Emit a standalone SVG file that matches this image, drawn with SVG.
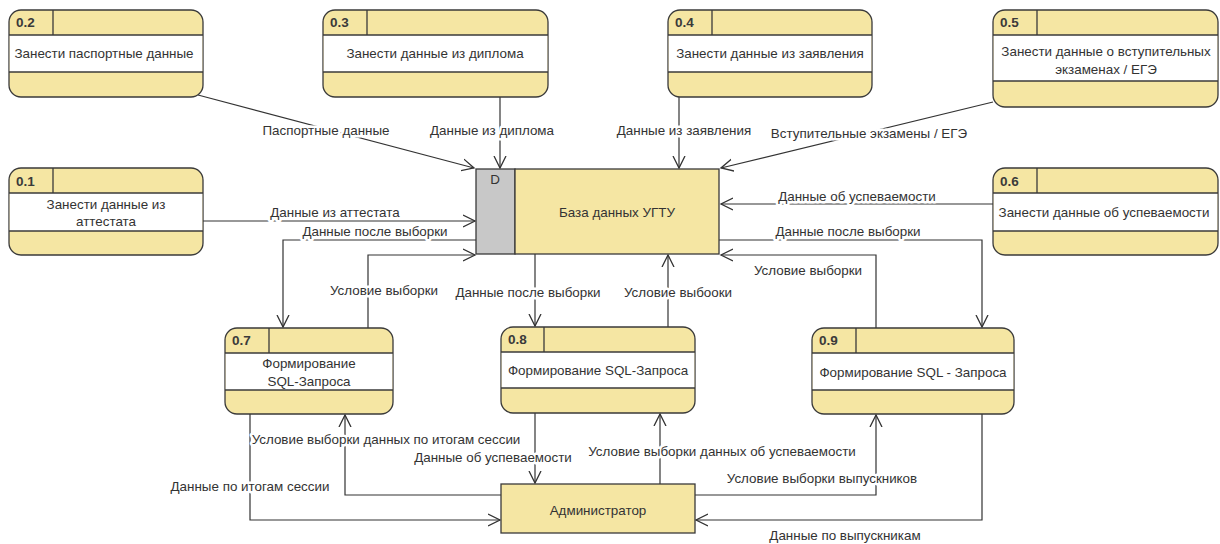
<svg xmlns="http://www.w3.org/2000/svg" width="1220" height="544" viewBox="0 0 1220 544">
<style>
text{font-family:"Liberation Sans",Arial,sans-serif;font-size:13.4px;fill:#333;dominant-baseline:central}
.id{font-size:13.5px;font-weight:bold;fill:#3a3a3a}
.box{fill:#f5e6a3;stroke:#3a3a3a;stroke-width:1.3}
.body{fill:#fff}
.sep{stroke:#3a3a3a;stroke-width:1.3}
.c{text-anchor:middle}
.lbl{text-anchor:middle;paint-order:stroke;stroke:#fff;stroke-width:5px;stroke-linejoin:round}
.ln{fill:none;stroke:#333;stroke-width:1.2}
</style>
<defs>
<marker id="arr" markerUnits="userSpaceOnUse" markerWidth="14" markerHeight="14" refX="12" refY="6" orient="auto" viewBox="0 0 14 12">
<path d="M0,0 L12,6 L0,12" fill="none" stroke="#333" stroke-width="1.3"/>
</marker>
</defs>

<g id="connectors">
<line class="ln" x1="198" y1="95" x2="474" y2="168" marker-end="url(#arr)"/>
<line class="ln" x1="500" y1="97" x2="500" y2="168" marker-end="url(#arr)"/>
<line class="ln" x1="679" y1="97" x2="679" y2="168" marker-end="url(#arr)"/>
<line class="ln" x1="993" y1="102" x2="721" y2="168" marker-end="url(#arr)"/>
<line class="ln" x1="203" y1="221" x2="475" y2="221" marker-end="url(#arr)"/>
<polyline class="ln" points="476,240 283,240 283,327" marker-end="url(#arr)"/>
<polyline class="ln" points="368,328 368,255 475,255" marker-end="url(#arr)"/>
<line class="ln" x1="535" y1="254" x2="535" y2="326" marker-end="url(#arr)"/>
<line class="ln" x1="668" y1="327" x2="668" y2="255" marker-end="url(#arr)"/>
<line class="ln" x1="993" y1="204" x2="721" y2="204" marker-end="url(#arr)"/>
<polyline class="ln" points="719,240 982,240 982,327" marker-end="url(#arr)"/>
<polyline class="ln" points="876,328 876,255 721,255" marker-end="url(#arr)"/>
<polyline class="ln" points="501,495 345,495 345,415" marker-end="url(#arr)"/>
<polyline class="ln" points="250,414 250,520 500,520" marker-end="url(#arr)"/>
<line class="ln" x1="535" y1="413" x2="535" y2="483" marker-end="url(#arr)"/>
<line class="ln" x1="660" y1="484" x2="660" y2="414" marker-end="url(#arr)"/>
<polyline class="ln" points="695,495 876,495 876,415" marker-end="url(#arr)"/>
<polyline class="ln" points="982,414 982,520 696,520" marker-end="url(#arr)"/>

<text class="lbl" x="326" y="130">Паспортные данные</text>
<text class="lbl" x="492" y="130">Данные из диплома</text>
<text class="lbl" x="684" y="130">Данные из заявления</text>
<text class="lbl" x="869" y="133">Вступительные экзамены / ЕГЭ</text>
<text class="lbl" x="335" y="212">Данные из аттестата</text>
<text class="lbl" x="375" y="231">Данные после выборки</text>
<text class="lbl" x="384" y="290">Условие выборки</text>
<text class="lbl" x="528" y="292">Данные после выборки</text>
<text class="lbl" x="678" y="292">Условие выбооки</text>
<text class="lbl" x="857" y="196">Данные об успеваемости</text>
<text class="lbl" x="848" y="231">Данные после выборки</text>
<text class="lbl" x="808" y="270">Условие выборки</text>
<text class="lbl" x="386" y="439">Условие выборки данных по итогам сессии</text>
<text class="lbl" x="493" y="457">Данные об успеваемости</text>
<text class="lbl" x="250" y="486">Данные по итогам сессии</text>
<text class="lbl" x="722" y="451">Условие выборки данных об успеваемости</text>
<text class="lbl" x="822" y="478">Условие выборки выпускников</text>
<text class="lbl" x="845" y="535">Данные по выпускникам</text>
</g>

<g id="n02">
<rect class="box" x="9" y="10" width="194" height="87" rx="12"/>
<rect class="body" x="9.7" y="35" width="192.6" height="37"/>
<line class="sep" x1="9" y1="35" x2="203" y2="35"/><line class="sep" x1="9" y1="72" x2="203" y2="72"/><line class="sep" x1="53" y1="10" x2="53" y2="35"/>
<text class="id" x="16" y="22">0.2</text>
<text class="c" x="104" y="53">Занести паспортные данные</text>
</g>

<g id="n03">
<rect class="box" x="323" y="10" width="225" height="87" rx="12"/>
<rect class="body" x="323.7" y="35" width="223.6" height="37"/>
<line class="sep" x1="323" y1="35" x2="548" y2="35"/><line class="sep" x1="323" y1="72" x2="548" y2="72"/><line class="sep" x1="367" y1="10" x2="367" y2="35"/>
<text class="id" x="330" y="22">0.3</text>
<text class="c" x="435" y="53">Занести данные из диплома</text>
</g>

<g id="n04">
<rect class="box" x="668" y="10" width="204" height="87" rx="12"/>
<rect class="body" x="668.7" y="35" width="202.6" height="37"/>
<line class="sep" x1="668" y1="35" x2="872" y2="35"/><line class="sep" x1="668" y1="72" x2="872" y2="72"/><line class="sep" x1="712" y1="10" x2="712" y2="35"/>
<text class="id" x="675" y="22">0.4</text>
<text class="c" x="770" y="53">Занести данные из заявления</text>
</g>

<g id="n05">
<rect class="box" x="993" y="10" width="225" height="97" rx="12"/>
<rect class="body" x="993.7" y="35" width="223.6" height="46"/>
<line class="sep" x1="993" y1="35" x2="1218" y2="35"/><line class="sep" x1="993" y1="81" x2="1218" y2="81"/><line class="sep" x1="1037" y1="10" x2="1037" y2="35"/>
<text class="id" x="1000" y="22">0.5</text>
<text class="c" x="1106" y="51">Занести данные о вступительных</text>
<text class="c" x="1106" y="69">экзаменах / ЕГЭ</text>
</g>

<g id="n01">
<rect class="box" x="9" y="168" width="194" height="87" rx="12"/>
<rect class="body" x="9.7" y="193" width="192.6" height="38"/>
<line class="sep" x1="9" y1="193" x2="203" y2="193"/><line class="sep" x1="9" y1="231" x2="203" y2="231"/><line class="sep" x1="53" y1="168" x2="53" y2="193"/>
<text class="id" x="16" y="181">0.1</text>
<text class="c" x="106" y="204">Занести данные из</text>
<text class="c" x="106" y="221">аттестата</text>
</g>

<g id="n06">
<rect class="box" x="993" y="168" width="225" height="87" rx="12"/>
<rect class="body" x="993.7" y="193" width="223.6" height="38"/>
<line class="sep" x1="993" y1="193" x2="1218" y2="193"/><line class="sep" x1="993" y1="231" x2="1218" y2="231"/><line class="sep" x1="1037" y1="168" x2="1037" y2="193"/>
<text class="id" x="1000" y="181">0.6</text>
<text class="c" x="1104" y="212">Занести данные об успеваемости</text>
</g>

<g id="db">
<rect x="476" y="169" width="39" height="85" fill="#c8c8c8" stroke="#3a3a3a" stroke-width="1.3"/>
<rect x="515" y="169" width="204" height="85" fill="#f5e6a3" stroke="#3a3a3a" stroke-width="1.3"/>
<text class="c" x="495" y="179">D</text>
<text class="c" x="617" y="212">База данных УГТУ</text>
</g>

<g id="n07">
<rect class="box" x="225" y="328" width="168" height="86" rx="12"/>
<rect class="body" x="225.7" y="353" width="166.6" height="37"/>
<line class="sep" x1="225" y1="353" x2="393" y2="353"/><line class="sep" x1="225" y1="390" x2="393" y2="390"/><line class="sep" x1="269" y1="328" x2="269" y2="353"/>
<text class="id" x="232" y="340">0.7</text>
<text class="c" x="309" y="363">Формирование</text>
<text class="c" x="309" y="381">SQL-Запроса</text>
</g>

<g id="n08">
<rect class="box" x="501" y="327" width="194" height="86" rx="12"/>
<rect class="body" x="501.7" y="352" width="192.6" height="36"/>
<line class="sep" x1="501" y1="352" x2="695" y2="352"/><line class="sep" x1="501" y1="388" x2="695" y2="388"/><line class="sep" x1="544" y1="327" x2="544" y2="352"/>
<text class="id" x="508" y="339">0.8</text>
<text class="c" x="598" y="370">Формирование SQL-Запроса</text>
</g>

<g id="n09">
<rect class="box" x="812" y="328" width="202" height="86" rx="12"/>
<rect class="body" x="812.7" y="353" width="200.6" height="37"/>
<line class="sep" x1="812" y1="353" x2="1014" y2="353"/><line class="sep" x1="812" y1="390" x2="1014" y2="390"/><line class="sep" x1="856" y1="328" x2="856" y2="353"/>
<text class="id" x="819" y="340">0.9</text>
<text class="c" x="913" y="372">Формирование SQL - Запроса</text>
</g>

<g id="admin">
<rect x="501" y="484" width="194" height="49" fill="#f5e6a3" stroke="#3a3a3a" stroke-width="1.3"/>
<text class="c" x="598" y="510">Администратор</text>
</g>
</svg>
